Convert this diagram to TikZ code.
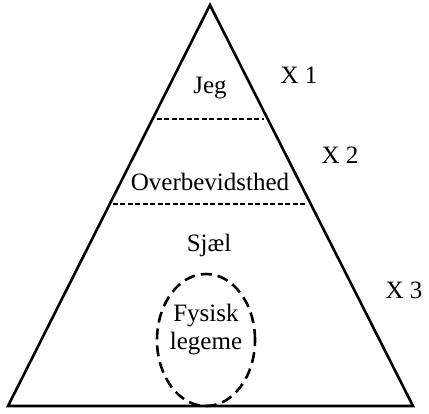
\documentclass[tikz,border=0pt]{standalone}
\usepackage{fontspec}
\setmainfont{Liberation Serif}
\usetikzlibrary{calc,shapes.geometric}

\begin{document}
\begin{tikzpicture}[%
        x=1pt, y=-1pt,
        txt/.style={ font=\fontsize{25}{28}\selectfont, inner sep=0pt },%
        side/.style={ line width=2.6pt, line join=miter },%
        level/.style={ line width=2pt, dash pattern=on 5pt off 2.5pt },%
        body/.style={ ellipse, draw, line width=2.6pt, dash pattern=on 11pt off 6pt, minimum width=98pt, minimum height=132pt, inner sep=0pt }%
      ]
      \useasboundingbox (0,0) rectangle (429,413);
      \coordinate (top) at (210,5);
      \coordinate (bl) at (8,406);
      \coordinate (br) at (413,406);
      \draw [side] (top)--(bl)--(br)--cycle;
      \draw [level] ($(top)!0.284!(bl)+(4,0)$) -- ($(top)!0.284!(br)+(-4,0)$);
      \draw [level] ($(top)!0.496!(bl)+(3,0)$) -- ($(top)!0.496!(br)+(-3,0)$);
      \node (jeg) at (210, 88) [txt]{Jeg};
      \node (overbev) at (210,182) [txt]{Overbevidsthed};
      \node (sjael) at (209,245) [txt]{Sj\ae l};
      \node (fysisk) at (206,340) [body]{};
      \node (legeme) at (206,330) [txt, align=center]{Fysisk\\legeme};
      \node (x1) at (299, 75) [txt]{X 1};
      \node (x2) at (340,155) [txt]{X 2};
      \node (x3) at (404,290) [txt]{X 3};
    \end{tikzpicture}
\end{document}
